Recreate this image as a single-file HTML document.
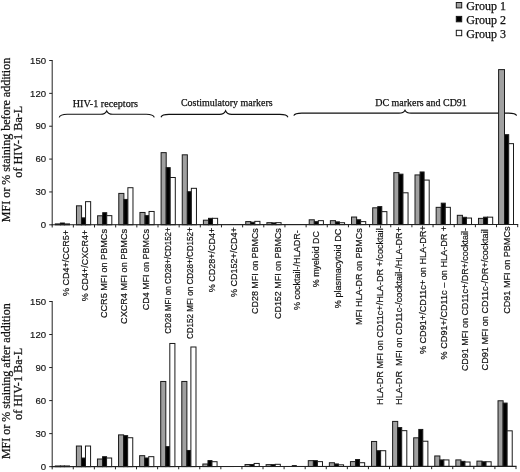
<!DOCTYPE html>
<html><head><meta charset="utf-8"><title>Figure</title>
<style>
html,body{margin:0;padding:0;background:#fff;}
body{width:520px;height:472px;overflow:hidden;}
svg{display:block;will-change:transform;}
.tk{font-family:"Liberation Sans",sans-serif;font-size:9.6px;fill:#111;stroke:#111;stroke-width:0.15px;}
.cl{font-family:"Liberation Sans",sans-serif;fill:#111;stroke:#111;stroke-width:0.2px;}
.sf{font-family:"Liberation Serif",serif;fill:#111;stroke:#111;stroke-width:0.25px;}
</style></head><body>
<svg width="520" height="472" viewBox="0 0 520 472">
<rect x="0" y="0" width="520" height="472" fill="#fff"/>
<path d="M59.2,117.4 C60.0,114.8 62.7,114.2 67.2,114.2 L100.7,114.2 Q105.2,114.2 106.7,110.9 Q108.2,114.2 112.7,114.2 L146.3,114.2 C150.8,114.2 153.5,114.8 154.3,117.4" fill="none" stroke="#111" stroke-width="1.15" stroke-linejoin="miter"/>
<path d="M161,117.2 C161.8,115.0 164.5,114.4 169,114.4 L219.6,114.4 Q224.1,114.4 225.6,110.8 Q227.1,114.4 231.6,114.4 L279.9,114.4 C284.4,114.4 287.09999999999997,115.0 287.9,117.2" fill="none" stroke="#111" stroke-width="1.15" stroke-linejoin="miter"/>
<path d="M293.8,115.6 C294.6,113.69999999999999 297.3,113.1 301.8,113.1 L399,113.1 Q403.5,113.1 405,110.2 Q406.5,113.1 411,113.1 L508.6,113.1 C513.1,113.1 515.8000000000001,113.69999999999999 516.6,115.6" fill="none" stroke="#111" stroke-width="1.15" stroke-linejoin="miter"/>
<text x="72.7" y="106.6" textLength="65.4" lengthAdjust="spacingAndGlyphs" class="sf" font-size="10.7">HIV-1 receptors</text>
<text x="180.9" y="106.0" textLength="91.7" lengthAdjust="spacingAndGlyphs" class="sf" font-size="10.7">Costimulatory markers</text>
<text x="375.2" y="105.6" textLength="91.6" lengthAdjust="spacingAndGlyphs" class="sf" font-size="10.7">DC markers and CD91</text>
<rect x="55.30" y="223.90" width="5.10" height="0.90" fill="#a0a0a0" stroke="#1a1a1a" stroke-width="1"/>
<rect x="60.40" y="223.02" width="4.00" height="1.77" fill="#000" stroke="#1a1a1a" stroke-width="1"/>
<rect x="64.40" y="223.90" width="5.10" height="0.90" fill="#fff" stroke="#1a1a1a" stroke-width="1"/>
<rect x="76.46" y="205.81" width="5.10" height="18.97" fill="#a0a0a0" stroke="#1a1a1a" stroke-width="1"/>
<rect x="81.56" y="217.86" width="4.00" height="6.92" fill="#000" stroke="#1a1a1a" stroke-width="1"/>
<rect x="85.56" y="201.65" width="5.10" height="23.13" fill="#fff" stroke="#1a1a1a" stroke-width="1"/>
<rect x="97.62" y="215.77" width="5.10" height="9.00" fill="#a0a0a0" stroke="#1a1a1a" stroke-width="1"/>
<rect x="102.72" y="212.70" width="4.00" height="12.07" fill="#000" stroke="#1a1a1a" stroke-width="1"/>
<rect x="106.72" y="215.65" width="5.10" height="9.11" fill="#fff" stroke="#1a1a1a" stroke-width="1"/>
<rect x="118.78" y="193.41" width="5.10" height="31.35" fill="#a0a0a0" stroke="#1a1a1a" stroke-width="1"/>
<rect x="123.88" y="199.43" width="4.00" height="25.32" fill="#000" stroke="#1a1a1a" stroke-width="1"/>
<rect x="127.88" y="187.71" width="5.10" height="37.04" fill="#fff" stroke="#1a1a1a" stroke-width="1"/>
<rect x="139.94" y="212.46" width="5.10" height="12.29" fill="#a0a0a0" stroke="#1a1a1a" stroke-width="1"/>
<rect x="145.04" y="215.63" width="4.00" height="9.11" fill="#000" stroke="#1a1a1a" stroke-width="1"/>
<rect x="149.04" y="211.46" width="5.10" height="13.27" fill="#fff" stroke="#1a1a1a" stroke-width="1"/>
<rect x="161.10" y="152.64" width="5.10" height="72.09" fill="#a0a0a0" stroke="#1a1a1a" stroke-width="1"/>
<rect x="166.20" y="167.64" width="4.00" height="57.09" fill="#000" stroke="#1a1a1a" stroke-width="1"/>
<rect x="170.20" y="177.49" width="5.10" height="47.23" fill="#fff" stroke="#1a1a1a" stroke-width="1"/>
<rect x="182.25" y="154.81" width="5.10" height="69.90" fill="#a0a0a0" stroke="#1a1a1a" stroke-width="1"/>
<rect x="187.35" y="191.72" width="4.00" height="32.99" fill="#000" stroke="#1a1a1a" stroke-width="1"/>
<rect x="191.35" y="188.32" width="5.10" height="36.38" fill="#fff" stroke="#1a1a1a" stroke-width="1"/>
<rect x="203.41" y="220.19" width="5.10" height="4.51" fill="#a0a0a0" stroke="#1a1a1a" stroke-width="1"/>
<rect x="208.51" y="218.33" width="4.00" height="6.37" fill="#000" stroke="#1a1a1a" stroke-width="1"/>
<rect x="212.51" y="218.32" width="5.10" height="6.37" fill="#fff" stroke="#1a1a1a" stroke-width="1"/>
<rect x="245.73" y="221.59" width="5.10" height="3.09" fill="#a0a0a0" stroke="#1a1a1a" stroke-width="1"/>
<rect x="250.83" y="222.24" width="4.00" height="2.43" fill="#000" stroke="#1a1a1a" stroke-width="1"/>
<rect x="254.83" y="221.36" width="5.10" height="3.31" fill="#fff" stroke="#1a1a1a" stroke-width="1"/>
<rect x="266.89" y="222.67" width="5.10" height="1.99" fill="#a0a0a0" stroke="#1a1a1a" stroke-width="1"/>
<rect x="271.99" y="222.89" width="4.00" height="1.77" fill="#000" stroke="#1a1a1a" stroke-width="1"/>
<rect x="275.99" y="222.66" width="5.10" height="1.99" fill="#fff" stroke="#1a1a1a" stroke-width="1"/>
<rect x="309.21" y="219.79" width="5.10" height="4.84" fill="#a0a0a0" stroke="#1a1a1a" stroke-width="1"/>
<rect x="314.31" y="221.65" width="4.00" height="2.98" fill="#000" stroke="#1a1a1a" stroke-width="1"/>
<rect x="318.31" y="220.66" width="5.10" height="3.96" fill="#fff" stroke="#1a1a1a" stroke-width="1"/>
<rect x="330.37" y="220.66" width="5.10" height="3.96" fill="#a0a0a0" stroke="#1a1a1a" stroke-width="1"/>
<rect x="335.47" y="221.86" width="4.00" height="2.76" fill="#000" stroke="#1a1a1a" stroke-width="1"/>
<rect x="339.47" y="222.73" width="5.10" height="1.88" fill="#fff" stroke="#1a1a1a" stroke-width="1"/>
<rect x="351.53" y="217.03" width="5.10" height="7.58" fill="#a0a0a0" stroke="#1a1a1a" stroke-width="1"/>
<rect x="356.63" y="219.76" width="4.00" height="4.84" fill="#000" stroke="#1a1a1a" stroke-width="1"/>
<rect x="360.63" y="221.62" width="5.10" height="2.98" fill="#fff" stroke="#1a1a1a" stroke-width="1"/>
<rect x="372.69" y="207.81" width="5.10" height="16.78" fill="#a0a0a0" stroke="#1a1a1a" stroke-width="1"/>
<rect x="377.79" y="206.61" width="4.00" height="17.98" fill="#000" stroke="#1a1a1a" stroke-width="1"/>
<rect x="381.79" y="211.64" width="5.10" height="12.94" fill="#fff" stroke="#1a1a1a" stroke-width="1"/>
<rect x="393.85" y="172.64" width="5.10" height="51.94" fill="#a0a0a0" stroke="#1a1a1a" stroke-width="1"/>
<rect x="398.95" y="174.17" width="4.00" height="50.40" fill="#000" stroke="#1a1a1a" stroke-width="1"/>
<rect x="402.95" y="192.79" width="5.10" height="31.78" fill="#fff" stroke="#1a1a1a" stroke-width="1"/>
<rect x="415.00" y="174.93" width="5.10" height="49.64" fill="#a0a0a0" stroke="#1a1a1a" stroke-width="1"/>
<rect x="420.10" y="171.97" width="4.00" height="52.60" fill="#000" stroke="#1a1a1a" stroke-width="1"/>
<rect x="424.10" y="180.07" width="5.10" height="44.49" fill="#fff" stroke="#1a1a1a" stroke-width="1"/>
<rect x="436.16" y="207.34" width="5.10" height="17.22" fill="#a0a0a0" stroke="#1a1a1a" stroke-width="1"/>
<rect x="441.26" y="203.17" width="4.00" height="21.38" fill="#000" stroke="#1a1a1a" stroke-width="1"/>
<rect x="445.26" y="207.33" width="5.10" height="17.22" fill="#fff" stroke="#1a1a1a" stroke-width="1"/>
<rect x="457.32" y="215.32" width="5.10" height="9.22" fill="#a0a0a0" stroke="#1a1a1a" stroke-width="1"/>
<rect x="462.42" y="217.29" width="4.00" height="7.25" fill="#000" stroke="#1a1a1a" stroke-width="1"/>
<rect x="466.42" y="218.05" width="5.10" height="6.48" fill="#fff" stroke="#1a1a1a" stroke-width="1"/>
<rect x="478.48" y="218.37" width="5.10" height="6.15" fill="#a0a0a0" stroke="#1a1a1a" stroke-width="1"/>
<rect x="483.58" y="217.16" width="4.00" height="7.36" fill="#000" stroke="#1a1a1a" stroke-width="1"/>
<rect x="487.58" y="217.16" width="5.10" height="7.36" fill="#fff" stroke="#1a1a1a" stroke-width="1"/>
<rect x="498.60" y="69.61" width="5.90" height="154.90" fill="#a0a0a0" stroke="#1a1a1a" stroke-width="1"/>
<rect x="504.50" y="134.67" width="4.20" height="89.84" fill="#000" stroke="#1a1a1a" stroke-width="1"/>
<rect x="508.70" y="143.65" width="4.80" height="80.85" fill="#fff" stroke="#1a1a1a" stroke-width="1"/>
<line x1="52.2" y1="60.00" x2="52.2" y2="225.30" stroke="#222" stroke-width="1"/>
<line x1="51.7" y1="224.80" x2="518.20" y2="224.50" stroke="#222" stroke-width="1.1"/>
<line x1="49.20" y1="224.80" x2="52.2" y2="224.80" stroke="#222" stroke-width="1"/>
<text x="46.1" y="227.95" text-anchor="end" class="tk">0</text>
<line x1="49.20" y1="191.94" x2="52.2" y2="191.94" stroke="#222" stroke-width="1"/>
<text x="46.1" y="195.09" text-anchor="end" class="tk">30</text>
<line x1="49.20" y1="159.08" x2="52.2" y2="159.08" stroke="#222" stroke-width="1"/>
<text x="46.1" y="162.23" text-anchor="end" class="tk">60</text>
<line x1="49.20" y1="126.22" x2="52.2" y2="126.22" stroke="#222" stroke-width="1"/>
<text x="46.1" y="129.37" text-anchor="end" class="tk">90</text>
<line x1="49.20" y1="93.36" x2="52.2" y2="93.36" stroke="#222" stroke-width="1"/>
<text x="46.1" y="96.51" text-anchor="end" class="tk">120</text>
<line x1="49.20" y1="60.50" x2="52.2" y2="60.50" stroke="#222" stroke-width="1"/>
<text x="46.1" y="63.65" text-anchor="end" class="tk">150</text>
<line x1="52.20" y1="224.80" x2="52.20" y2="227.50" stroke="#222" stroke-width="1"/>
<line x1="73.36" y1="224.79" x2="73.36" y2="227.49" stroke="#222" stroke-width="1"/>
<line x1="94.52" y1="224.77" x2="94.52" y2="227.47" stroke="#222" stroke-width="1"/>
<line x1="115.68" y1="224.76" x2="115.68" y2="227.46" stroke="#222" stroke-width="1"/>
<line x1="136.84" y1="224.75" x2="136.84" y2="227.45" stroke="#222" stroke-width="1"/>
<line x1="158.00" y1="224.73" x2="158.00" y2="227.43" stroke="#222" stroke-width="1"/>
<line x1="179.15" y1="224.72" x2="179.15" y2="227.42" stroke="#222" stroke-width="1"/>
<line x1="200.31" y1="224.70" x2="200.31" y2="227.40" stroke="#222" stroke-width="1"/>
<line x1="221.47" y1="224.69" x2="221.47" y2="227.39" stroke="#222" stroke-width="1"/>
<line x1="242.63" y1="224.68" x2="242.63" y2="227.38" stroke="#222" stroke-width="1"/>
<line x1="263.79" y1="224.66" x2="263.79" y2="227.36" stroke="#222" stroke-width="1"/>
<line x1="284.95" y1="224.65" x2="284.95" y2="227.35" stroke="#222" stroke-width="1"/>
<line x1="306.11" y1="224.64" x2="306.11" y2="227.34" stroke="#222" stroke-width="1"/>
<line x1="327.27" y1="224.62" x2="327.27" y2="227.32" stroke="#222" stroke-width="1"/>
<line x1="348.43" y1="224.61" x2="348.43" y2="227.31" stroke="#222" stroke-width="1"/>
<line x1="369.59" y1="224.60" x2="369.59" y2="227.30" stroke="#222" stroke-width="1"/>
<line x1="390.75" y1="224.58" x2="390.75" y2="227.28" stroke="#222" stroke-width="1"/>
<line x1="411.90" y1="224.57" x2="411.90" y2="227.27" stroke="#222" stroke-width="1"/>
<line x1="433.06" y1="224.55" x2="433.06" y2="227.25" stroke="#222" stroke-width="1"/>
<line x1="454.22" y1="224.54" x2="454.22" y2="227.24" stroke="#222" stroke-width="1"/>
<line x1="475.38" y1="224.53" x2="475.38" y2="227.23" stroke="#222" stroke-width="1"/>
<line x1="496.54" y1="224.51" x2="496.54" y2="227.21" stroke="#222" stroke-width="1"/>
<line x1="517.70" y1="224.50" x2="517.70" y2="227.20" stroke="#222" stroke-width="1"/>
<rect x="55.30" y="465.97" width="5.10" height="0.68" fill="#a0a0a0" stroke="#1a1a1a" stroke-width="1"/>
<rect x="60.40" y="465.96" width="4.00" height="0.68" fill="#000" stroke="#1a1a1a" stroke-width="1"/>
<rect x="64.40" y="465.96" width="5.10" height="0.68" fill="#fff" stroke="#1a1a1a" stroke-width="1"/>
<rect x="76.38" y="446.03" width="5.10" height="20.61" fill="#a0a0a0" stroke="#1a1a1a" stroke-width="1"/>
<rect x="81.48" y="458.03" width="4.00" height="8.61" fill="#000" stroke="#1a1a1a" stroke-width="1"/>
<rect x="85.48" y="446.02" width="5.10" height="20.61" fill="#fff" stroke="#1a1a1a" stroke-width="1"/>
<rect x="97.46" y="459.01" width="5.10" height="7.62" fill="#a0a0a0" stroke="#1a1a1a" stroke-width="1"/>
<rect x="102.56" y="456.69" width="4.00" height="9.93" fill="#000" stroke="#1a1a1a" stroke-width="1"/>
<rect x="106.56" y="458.01" width="5.10" height="8.61" fill="#fff" stroke="#1a1a1a" stroke-width="1"/>
<rect x="118.55" y="434.88" width="5.10" height="31.73" fill="#a0a0a0" stroke="#1a1a1a" stroke-width="1"/>
<rect x="123.65" y="435.65" width="4.00" height="30.96" fill="#000" stroke="#1a1a1a" stroke-width="1"/>
<rect x="127.65" y="437.74" width="5.10" height="28.87" fill="#fff" stroke="#1a1a1a" stroke-width="1"/>
<rect x="139.63" y="455.68" width="5.10" height="10.92" fill="#a0a0a0" stroke="#1a1a1a" stroke-width="1"/>
<rect x="144.73" y="457.99" width="4.00" height="8.61" fill="#000" stroke="#1a1a1a" stroke-width="1"/>
<rect x="148.73" y="456.67" width="5.10" height="9.93" fill="#fff" stroke="#1a1a1a" stroke-width="1"/>
<rect x="160.71" y="381.46" width="5.10" height="85.13" fill="#a0a0a0" stroke="#1a1a1a" stroke-width="1"/>
<rect x="165.81" y="446.64" width="4.00" height="19.95" fill="#000" stroke="#1a1a1a" stroke-width="1"/>
<rect x="169.81" y="343.47" width="5.10" height="123.11" fill="#fff" stroke="#1a1a1a" stroke-width="1"/>
<rect x="181.79" y="381.45" width="5.10" height="85.13" fill="#a0a0a0" stroke="#1a1a1a" stroke-width="1"/>
<rect x="186.89" y="450.48" width="4.00" height="16.09" fill="#000" stroke="#1a1a1a" stroke-width="1"/>
<rect x="190.89" y="346.99" width="5.10" height="119.59" fill="#fff" stroke="#1a1a1a" stroke-width="1"/>
<rect x="202.87" y="464.01" width="5.10" height="2.55" fill="#a0a0a0" stroke="#1a1a1a" stroke-width="1"/>
<rect x="207.97" y="460.60" width="4.00" height="5.97" fill="#000" stroke="#1a1a1a" stroke-width="1"/>
<rect x="211.97" y="461.70" width="5.10" height="4.86" fill="#fff" stroke="#1a1a1a" stroke-width="1"/>
<rect x="245.04" y="464.54" width="5.10" height="2.00" fill="#a0a0a0" stroke="#1a1a1a" stroke-width="1"/>
<rect x="250.14" y="464.54" width="4.00" height="2.00" fill="#000" stroke="#1a1a1a" stroke-width="1"/>
<rect x="254.14" y="463.44" width="5.10" height="3.10" fill="#fff" stroke="#1a1a1a" stroke-width="1"/>
<rect x="266.12" y="464.64" width="5.10" height="1.89" fill="#a0a0a0" stroke="#1a1a1a" stroke-width="1"/>
<rect x="271.22" y="464.64" width="4.00" height="1.89" fill="#000" stroke="#1a1a1a" stroke-width="1"/>
<rect x="275.22" y="464.31" width="5.10" height="2.22" fill="#fff" stroke="#1a1a1a" stroke-width="1"/>
<rect x="292.30" y="465.62" width="4.00" height="0.90" fill="#000" stroke="#1a1a1a" stroke-width="1"/>
<rect x="308.28" y="460.66" width="5.10" height="5.86" fill="#a0a0a0" stroke="#1a1a1a" stroke-width="1"/>
<rect x="313.38" y="460.65" width="4.00" height="5.86" fill="#000" stroke="#1a1a1a" stroke-width="1"/>
<rect x="317.38" y="461.64" width="5.10" height="4.86" fill="#fff" stroke="#1a1a1a" stroke-width="1"/>
<rect x="329.36" y="462.74" width="5.10" height="3.76" fill="#a0a0a0" stroke="#1a1a1a" stroke-width="1"/>
<rect x="334.46" y="463.94" width="4.00" height="2.55" fill="#000" stroke="#1a1a1a" stroke-width="1"/>
<rect x="338.46" y="464.82" width="5.10" height="1.67" fill="#fff" stroke="#1a1a1a" stroke-width="1"/>
<rect x="350.45" y="461.62" width="5.10" height="4.86" fill="#a0a0a0" stroke="#1a1a1a" stroke-width="1"/>
<rect x="355.55" y="459.53" width="4.00" height="6.96" fill="#000" stroke="#1a1a1a" stroke-width="1"/>
<rect x="359.55" y="462.72" width="5.10" height="3.76" fill="#fff" stroke="#1a1a1a" stroke-width="1"/>
<rect x="371.53" y="441.46" width="5.10" height="25.01" fill="#a0a0a0" stroke="#1a1a1a" stroke-width="1"/>
<rect x="376.63" y="450.71" width="4.00" height="15.76" fill="#000" stroke="#1a1a1a" stroke-width="1"/>
<rect x="380.63" y="450.71" width="5.10" height="15.76" fill="#fff" stroke="#1a1a1a" stroke-width="1"/>
<rect x="392.61" y="421.41" width="5.10" height="45.05" fill="#a0a0a0" stroke="#1a1a1a" stroke-width="1"/>
<rect x="397.71" y="427.58" width="4.00" height="38.89" fill="#000" stroke="#1a1a1a" stroke-width="1"/>
<rect x="401.71" y="430.66" width="5.10" height="35.80" fill="#fff" stroke="#1a1a1a" stroke-width="1"/>
<rect x="413.69" y="437.81" width="5.10" height="28.65" fill="#a0a0a0" stroke="#1a1a1a" stroke-width="1"/>
<rect x="418.79" y="429.44" width="4.00" height="37.01" fill="#000" stroke="#1a1a1a" stroke-width="1"/>
<rect x="422.79" y="441.22" width="5.10" height="25.23" fill="#fff" stroke="#1a1a1a" stroke-width="1"/>
<rect x="434.77" y="455.96" width="5.10" height="10.48" fill="#a0a0a0" stroke="#1a1a1a" stroke-width="1"/>
<rect x="439.87" y="459.92" width="4.00" height="6.52" fill="#000" stroke="#1a1a1a" stroke-width="1"/>
<rect x="443.87" y="459.92" width="5.10" height="6.52" fill="#fff" stroke="#1a1a1a" stroke-width="1"/>
<rect x="455.85" y="459.91" width="5.10" height="6.52" fill="#a0a0a0" stroke="#1a1a1a" stroke-width="1"/>
<rect x="460.95" y="461.34" width="4.00" height="5.08" fill="#000" stroke="#1a1a1a" stroke-width="1"/>
<rect x="464.95" y="462.00" width="5.10" height="4.42" fill="#fff" stroke="#1a1a1a" stroke-width="1"/>
<rect x="476.94" y="461.11" width="5.10" height="5.30" fill="#a0a0a0" stroke="#1a1a1a" stroke-width="1"/>
<rect x="482.04" y="461.77" width="4.00" height="4.64" fill="#000" stroke="#1a1a1a" stroke-width="1"/>
<rect x="486.04" y="461.77" width="5.10" height="4.64" fill="#fff" stroke="#1a1a1a" stroke-width="1"/>
<rect x="498.02" y="400.77" width="5.10" height="65.64" fill="#a0a0a0" stroke="#1a1a1a" stroke-width="1"/>
<rect x="503.12" y="403.08" width="4.00" height="63.33" fill="#000" stroke="#1a1a1a" stroke-width="1"/>
<rect x="507.12" y="430.82" width="5.10" height="35.58" fill="#fff" stroke="#1a1a1a" stroke-width="1"/>
<line x1="52.2" y1="301.00" x2="52.2" y2="467.15" stroke="#222" stroke-width="1"/>
<line x1="51.7" y1="466.65" x2="516.50" y2="466.40" stroke="#222" stroke-width="1.1"/>
<line x1="49.20" y1="466.65" x2="52.2" y2="466.65" stroke="#222" stroke-width="1"/>
<text x="46.1" y="469.80" text-anchor="end" class="tk">0</text>
<line x1="49.20" y1="433.62" x2="52.2" y2="433.62" stroke="#222" stroke-width="1"/>
<text x="46.1" y="436.77" text-anchor="end" class="tk">30</text>
<line x1="49.20" y1="400.59" x2="52.2" y2="400.59" stroke="#222" stroke-width="1"/>
<text x="46.1" y="403.74" text-anchor="end" class="tk">60</text>
<line x1="49.20" y1="367.56" x2="52.2" y2="367.56" stroke="#222" stroke-width="1"/>
<text x="46.1" y="370.71" text-anchor="end" class="tk">90</text>
<line x1="49.20" y1="334.53" x2="52.2" y2="334.53" stroke="#222" stroke-width="1"/>
<text x="46.1" y="337.68" text-anchor="end" class="tk">120</text>
<line x1="49.20" y1="301.50" x2="52.2" y2="301.50" stroke="#222" stroke-width="1"/>
<text x="46.1" y="304.65" text-anchor="end" class="tk">150</text>
<line x1="52.20" y1="466.65" x2="52.20" y2="469.35" stroke="#222" stroke-width="1"/>
<line x1="73.28" y1="466.64" x2="73.28" y2="469.34" stroke="#222" stroke-width="1"/>
<line x1="94.36" y1="466.63" x2="94.36" y2="469.33" stroke="#222" stroke-width="1"/>
<line x1="115.45" y1="466.62" x2="115.45" y2="469.32" stroke="#222" stroke-width="1"/>
<line x1="136.53" y1="466.60" x2="136.53" y2="469.30" stroke="#222" stroke-width="1"/>
<line x1="157.61" y1="466.59" x2="157.61" y2="469.29" stroke="#222" stroke-width="1"/>
<line x1="178.69" y1="466.58" x2="178.69" y2="469.28" stroke="#222" stroke-width="1"/>
<line x1="199.77" y1="466.57" x2="199.77" y2="469.27" stroke="#222" stroke-width="1"/>
<line x1="220.85" y1="466.56" x2="220.85" y2="469.26" stroke="#222" stroke-width="1"/>
<line x1="241.94" y1="466.55" x2="241.94" y2="469.25" stroke="#222" stroke-width="1"/>
<line x1="263.02" y1="466.54" x2="263.02" y2="469.24" stroke="#222" stroke-width="1"/>
<line x1="284.10" y1="466.52" x2="284.10" y2="469.22" stroke="#222" stroke-width="1"/>
<line x1="305.18" y1="466.51" x2="305.18" y2="469.21" stroke="#222" stroke-width="1"/>
<line x1="326.26" y1="466.50" x2="326.26" y2="469.20" stroke="#222" stroke-width="1"/>
<line x1="347.35" y1="466.49" x2="347.35" y2="469.19" stroke="#222" stroke-width="1"/>
<line x1="368.43" y1="466.48" x2="368.43" y2="469.18" stroke="#222" stroke-width="1"/>
<line x1="389.51" y1="466.47" x2="389.51" y2="469.17" stroke="#222" stroke-width="1"/>
<line x1="410.59" y1="466.46" x2="410.59" y2="469.16" stroke="#222" stroke-width="1"/>
<line x1="431.67" y1="466.45" x2="431.67" y2="469.15" stroke="#222" stroke-width="1"/>
<line x1="452.75" y1="466.43" x2="452.75" y2="469.13" stroke="#222" stroke-width="1"/>
<line x1="473.84" y1="466.42" x2="473.84" y2="469.12" stroke="#222" stroke-width="1"/>
<line x1="494.92" y1="466.41" x2="494.92" y2="469.11" stroke="#222" stroke-width="1"/>
<line x1="516.00" y1="466.40" x2="516.00" y2="469.10" stroke="#222" stroke-width="1"/>
<text transform="translate(68.94,295.90) rotate(-90)" class="cl" font-size="9.6" textLength="66.0" lengthAdjust="spacingAndGlyphs" xml:space="preserve">% CD4+/CCR5+</text>
<text transform="translate(87.54,301.30) rotate(-90)" class="cl" font-size="9.6" textLength="71.5" lengthAdjust="spacingAndGlyphs" xml:space="preserve">% CD4+/CXCR4+</text>
<text transform="translate(106.94,318.10) rotate(-90)" class="cl" font-size="9.6" textLength="89.1" lengthAdjust="spacingAndGlyphs" xml:space="preserve">CCR5 MFI on PBMCs</text>
<text transform="translate(127.34,323.90) rotate(-90)" class="cl" font-size="9.6" textLength="94.9" lengthAdjust="spacingAndGlyphs" xml:space="preserve">CXCR4 MFI on PBMCs</text>
<text transform="translate(149.44,310.30) rotate(-90)" class="cl" font-size="9.6" textLength="81.3" lengthAdjust="spacingAndGlyphs" xml:space="preserve">CD4 MFI on PBMCs</text>
<text transform="translate(171.42,333.80) rotate(-90)" class="cl" font-size="9.0" textLength="106.5" lengthAdjust="spacingAndGlyphs" xml:space="preserve">CD28 MFI on CD28+/CD152+</text>
<text transform="translate(192.72,339.10) rotate(-90)" class="cl" font-size="9.0" textLength="111.8" lengthAdjust="spacingAndGlyphs" xml:space="preserve">CD152 MFI on CD28+/CD152+</text>
<text transform="translate(214.94,292.30) rotate(-90)" class="cl" font-size="9.6" textLength="64.6" lengthAdjust="spacingAndGlyphs" xml:space="preserve">% CD28+/CD4+</text>
<text transform="translate(237.34,297.00) rotate(-90)" class="cl" font-size="9.6" textLength="69.7" lengthAdjust="spacingAndGlyphs" xml:space="preserve">% CD152+/CD4+</text>
<text transform="translate(257.84,313.90) rotate(-90)" class="cl" font-size="9.6" textLength="85.7" lengthAdjust="spacingAndGlyphs" xml:space="preserve">CD28 MFI on PBMCs</text>
<text transform="translate(280.54,319.00) rotate(-90)" class="cl" font-size="9.6" textLength="90.8" lengthAdjust="spacingAndGlyphs" xml:space="preserve">CD152 MFI on PBMCs</text>
<text transform="translate(299.74,310.00) rotate(-90)" class="cl" font-size="9.6" textLength="79.7" lengthAdjust="spacingAndGlyphs" xml:space="preserve">% cocktail-/HLADR-</text>
<text transform="translate(318.54,287.20) rotate(-90)" class="cl" font-size="9.6" textLength="56.1" lengthAdjust="spacingAndGlyphs" xml:space="preserve">% myeloid DC</text>
<text transform="translate(340.94,308.20) rotate(-90)" class="cl" font-size="9.6" textLength="79.5" lengthAdjust="spacingAndGlyphs" xml:space="preserve">% plasmacytoid DC</text>
<text transform="translate(362.04,324.90) rotate(-90)" class="cl" font-size="9.6" textLength="96.7" lengthAdjust="spacingAndGlyphs" xml:space="preserve">MFI HLA-DR on PBMCs</text>
<text transform="translate(382.64,404.90) rotate(-90)" class="cl" font-size="9.6" textLength="179.6" lengthAdjust="spacingAndGlyphs" xml:space="preserve">HLA-DR MFI on CD11c+/HLA-DR +/cocktail-</text>
<text transform="translate(402.34,404.90) rotate(-90)" class="cl" font-size="9.6" textLength="177.9" lengthAdjust="spacingAndGlyphs" xml:space="preserve">HLA-DR  MFI on CD11c-/cocktail-/HLA-DR+</text>
<text transform="translate(426.44,354.10) rotate(-90)" class="cl" font-size="9.6" textLength="128.8" lengthAdjust="spacingAndGlyphs" xml:space="preserve">% CD91+/CD11c+ on HLA-DR+</text>
<text transform="translate(447.34,359.40) rotate(-90)" class="cl" font-size="9.6" textLength="133.6" lengthAdjust="spacingAndGlyphs" xml:space="preserve">% CD91+/CD11c – on HLA-DR +</text>
<text transform="translate(468.34,371.10) rotate(-90)" class="cl" font-size="9.6" textLength="143.1" lengthAdjust="spacingAndGlyphs" xml:space="preserve">CD91 MFI on CD11c+/DR+/cocktail-</text>
<text transform="translate(487.84,370.40) rotate(-90)" class="cl" font-size="9.6" textLength="141.1" lengthAdjust="spacingAndGlyphs" xml:space="preserve">CD91 MFI on CD11c-/DR+/cocktail</text>
<text transform="translate(510.34,313.80) rotate(-90)" class="cl" font-size="9.6" textLength="87.3" lengthAdjust="spacingAndGlyphs" xml:space="preserve">CD91 MFI on PBMCs</text>
<text transform="translate(9.5,222.15) rotate(-90)" textLength="164.3" lengthAdjust="spacingAndGlyphs" class="sf" font-size="13">MFI or % staining before addition</text>
<text transform="translate(22.4,177.70) rotate(-90)" textLength="72" lengthAdjust="spacingAndGlyphs" class="sf" font-size="13">of HIV-1 Ba-L</text>
<text transform="translate(9.5,459.05) rotate(-90)" textLength="155.7" lengthAdjust="spacingAndGlyphs" class="sf" font-size="13">MFI or % staining after addition</text>
<text transform="translate(22.4,419.90) rotate(-90)" textLength="72" lengthAdjust="spacingAndGlyphs" class="sf" font-size="13">of HIV-1 Ba-L</text>
<rect x="456.3" y="2.50" width="5.4" height="5.4" fill="#a0a0a0" stroke="#1a1a1a" stroke-width="1"/>
<text x="466.3" y="9.80" class="sf" font-size="12">Group 1</text>
<rect x="456.3" y="16.40" width="5.4" height="5.4" fill="#000" stroke="#1a1a1a" stroke-width="1"/>
<text x="466.3" y="23.70" class="sf" font-size="12">Group 2</text>
<rect x="456.3" y="30.30" width="5.4" height="5.4" fill="#fff" stroke="#1a1a1a" stroke-width="1"/>
<text x="466.3" y="37.60" class="sf" font-size="12">Group 3</text>
</svg></body></html>
